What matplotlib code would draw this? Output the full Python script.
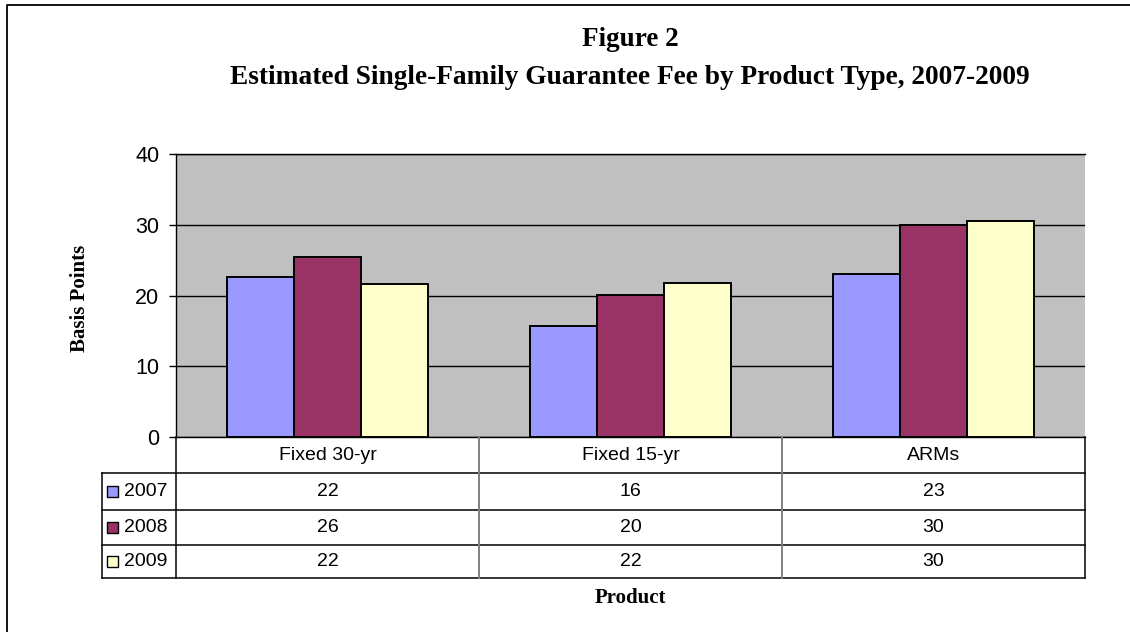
import matplotlib
matplotlib.use("Agg")
import matplotlib.pyplot as plt
import numpy as np
from matplotlib.patches import Rectangle

# chart data (bar heights, table text as printed)
products = ["Fixed 30-yr", "Fixed 15-yr", "ARMs"]
years = ["2007", "2008", "2009"]
fee_2007 = [22.6, 15.7, 23.0]
fee_2008 = [25.5, 20.1, 29.9]
fee_2009 = [21.6, 21.8, 30.5]
table_2007 = ["22", "16", "23"]
table_2008 = ["26", "20", "30"]
table_2009 = ["22", "22", "30"]
colors = ["#9999FF", "#993366", "#FFFFCC"]

series = [fee_2007, fee_2008, fee_2009]
table_rows = [table_2007, table_2008, table_2009]

W, H = 1130, 632
sans = "Liberation Sans"
serif = "Liberation Serif"

fig = plt.figure(figsize=(W / 100, H / 100), dpi=100)
fig.patch.set_facecolor("white")

# plot area (pixel box 176..1085 x 154..437)
ax = fig.add_axes([176 / W, (H - 437) / H, (1085 - 176) / W, (437 - 154) / H])
ax.set_facecolor("#C0C0C0")
x = np.arange(len(products))
bw = 0.222
for i, (vals, col) in enumerate(zip(series, colors)):
    ax.bar(x + (i - 1) * bw, vals, width=bw, color=col, edgecolor="black",
           linewidth=1.4, zorder=3)
ax.set_xlim(-0.5, len(products) - 0.5)
ax.set_ylim(0, 40)
ax.set_yticks([0, 10, 20, 30, 40])
ax.set_xticks([])
ax.yaxis.grid(True, color="black", linewidth=1.0, zorder=1)
ax.set_axisbelow(True)
for s in ["top", "right"]:
    ax.spines[s].set_visible(False)
ax.spines["left"].set_linewidth(1.0)
ax.spines["bottom"].set_linewidth(1.0)
ax.tick_params(axis="y", direction="out", length=5, width=1, pad=7,
               labelsize=15.5)
for lab in ax.get_yticklabels():
    lab.set_fontfamily(sans)
ax.axhline(40, color="black", linewidth=1.0, zorder=2, clip_on=False)

# overlay in figure pixels (y up) for table, titles and frame
ov = fig.add_axes([0, 0, 1, 1])
ov.set_xlim(0, W)
ov.set_ylim(0, H)
ov.axis("off")
ov.patch.set_visible(False)

def py(y):
    return H - y

# category column edges taken from the plot axes
to_px = ax.transData
col_edges = [to_px.transform((e, 0))[0] for e in np.arange(len(products) + 1) - 0.5]
left_leg = 102
row_edges = [437, 473, 510, 545, 578]

lw = 1.1
# horizontal lines
for yy in row_edges[1:]:
    ov.plot([left_leg, col_edges[-1]], [py(yy), py(yy)], color="black", lw=lw)
# outer verticals
ov.plot([col_edges[0], col_edges[0]], [py(row_edges[0]), py(row_edges[-1])], color="black", lw=lw)
ov.plot([col_edges[-1], col_edges[-1]], [py(row_edges[0]), py(row_edges[-1])], color="black", lw=lw)
ov.plot([left_leg, left_leg], [py(row_edges[1]), py(row_edges[-1])], color="black", lw=lw)
# inner dividers
for xe in col_edges[1:-1]:
    ov.plot([xe, xe], [py(row_edges[0]), py(row_edges[-1])], color="#808080", lw=1.4)

fs_tab = 14
# header text
for i, name in enumerate(products):
    xc = (col_edges[i] + col_edges[i + 1]) / 2
    ov.text(xc, py((row_edges[0] + row_edges[1]) / 2), name, ha="center",
            va="center", fontsize=fs_tab, family=sans)

# rows
for r, (yr, vals, col) in enumerate(zip(years, table_rows, colors)):
    yc = py((row_edges[r + 1] + row_edges[r + 2]) / 2)
    ov.add_patch(Rectangle((107, yc - 5.5), 11, 11, facecolor=col,
                           edgecolor="black", lw=1.0))
    ov.text(124, yc, yr, ha="left", va="center", fontsize=fs_tab, family=sans)
    for i, v in enumerate(vals):
        xc = (col_edges[i] + col_edges[i + 1]) / 2
        ov.text(xc, yc, v, ha="center", va="center", fontsize=fs_tab, family=sans)

# titles
ov.text(630, py(40), "Figure 2", ha="center", va="center", fontsize=19.5,
        family=serif, weight="bold")
ov.text(630, py(77), "Estimated Single-Family Guarantee Fee by Product Type, 2007-2009",
        ha="center", va="center", fontsize=19.7, family=serif, weight="bold")
ov.text(80, py(298), "Basis Points", ha="center", va="center", rotation=90,
        fontsize=15, family=serif, weight="bold")
ov.text(630, py(598), "Product", ha="center", va="center", fontsize=15,
        family=serif, weight="bold")

# chart frame (only top/left edges fall inside the picture)
ov.plot([7, 7, W + 5], [-5, py(5), py(5)], color="black", lw=1.3)

fig.savefig("out.png", dpi=100)
